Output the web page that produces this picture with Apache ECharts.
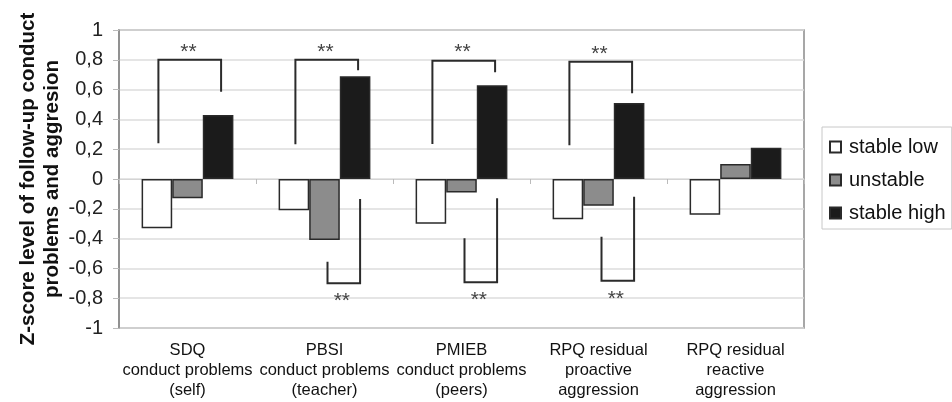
<!DOCTYPE html>
<html>
<head>
<meta charset="utf-8">
<script src="https://cdn.jsdelivr.net/npm/echarts@6/dist/echarts.min.js"></script>
<style>
html,body{margin:0;padding:0;background:#fff;}
#c{width:952px;height:402px;}
</style>
</head>
<body>
<div id="c"></div>
<script>
// ---- data ----
const categories = [
  'SDQ\nconduct problems\n(self)',
  'PBSI\nconduct problems\n(teacher)',
  'PMIEB\nconduct problems\n(peers)',
  'RPQ residual\nproactive\naggression',
  'RPQ residual\nreactive\naggression'
];
const seriesNames = ['stable low', 'unstable', 'stable high'];
const stableLow  = [-0.33, -0.21, -0.30, -0.27, -0.24];
const unstable   = [-0.13, -0.41, -0.09, -0.18, 0.10];
const stableHigh = [0.43, 0.69, 0.63, 0.51, 0.21];
const yTicks = [-1, -0.8, -0.6, -0.4, -0.2, 0, 0.2, 0.4, 0.6, 0.8, 1];
// significance brackets: [category, start value, bar value, end value]
const topBrackets = [
  [0, 0.24, 0.80, 0.585],
  [1, 0.233, 0.80, 0.73],
  [2, 0.235, 0.794, 0.716],
  [3, 0.226, 0.787, 0.575]
];
const bottomBrackets = [
  [1, -0.134, -0.70, -0.555],
  [2, -0.13, -0.693, -0.398],
  [3, -0.119, -0.683, -0.387]
];
const sigLabel = '**';

// ---- chart ----
const FONT = "'Liberation Sans', Arial, sans-serif";
const CAT_GAP = 0.33;
const chart = echarts.init(document.getElementById('c'), null, {renderer: 'canvas'});

function bracketRenderer(isTop) {
  return function (params, api) {
    const cat = api.value(0);
    const c = api.coord([cat, 0]);
    const band = api.size([1, 0])[0];
    const bw = band * (1 - CAT_GAP) / 3;
    let xl, xr;
    if (isTop) { xl = c[0] - bw + 1.5; xr = c[0] + bw + 3; }
    else { xl = c[0] + 3; xr = c[0] + bw + 5; }
    const y1 = api.coord([cat, api.value(1)])[1];
    const y2 = api.coord([cat, api.value(2)])[1];
    const y3 = api.coord([cat, api.value(3)])[1];
    const pts = isTop
      ? [[xl, y1], [xl, y2], [xr, y2], [xr, y3]]
      : [[xr, y1], [xr, y2], [xl, y2], [xl, y3]];
    const tx = isTop ? c[0] + 1 : (xl + xr) / 2 - 2;
    const ty = isTop ? y2 - 8 : y2 + 18;
    return {
      type: 'group',
      children: [
        {type: 'polyline', shape: {points: pts},
         style: {stroke: '#2b2b2b', lineWidth: 2, fill: null}},
        {type: 'text', x: tx, y: ty,
         style: {text: sigLabel, font: "21px " + FONT, fill: '#444',
                 align: 'center', verticalAlign: 'middle'}}
      ]
    };
  };
}

const barStyle = (color) => ({color: color, borderColor: '#2a2a2a', borderWidth: 1.5});

const option = {
  animation: false,
  backgroundColor: '#fff',
  textStyle: {fontFamily: FONT},
  grid: {left: 119, right: 148, top: 30, bottom: 74, show: true,
         borderColor: '#8a8a8a', borderWidth: 1.5, backgroundColor: 'transparent'},
  legend: {
    data: seriesNames,
    orient: 'vertical',
    left: 822, top: 127,
    itemWidth: 11, itemHeight: 11, itemGap: 13,
    padding: [10, 6, 6, 7],
    borderColor: '#c8c8c8', borderWidth: 1,
    icon: 'rect',
    textStyle: {fontSize: 20, color: '#111', fontFamily: FONT, padding: [0, 0, 0, 3]}
  },
  xAxis: [
    {
      type: 'category', data: categories, position: 'bottom',
      axisLine: {show: false, onZero: false},
      axisTick: {show: false},
      axisLabel: {
        interval: 0, margin: 12, color: '#111',
        fontSize: 16.5, lineHeight: 20, fontFamily: FONT
      },
      splitLine: {show: false}
    },
    {
      type: 'category', data: categories, position: 'bottom',
      axisLine: {show: true, onZero: true, lineStyle: {color: '#d4d4d4', width: 1}},
      axisTick: {show: true, length: 5, lineStyle: {color: '#bbb'}},
      axisLabel: {show: false},
      splitLine: {show: false}
    }
  ],
  yAxis: {
    type: 'value', min: -1, max: 1, interval: 0.2,
    name: 'Z-score level of follow-up conduct\nproblems and aggresion',
    nameLocation: 'middle', nameGap: 55, nameRotate: 90, nameMoveOverlap: false,
    nameTextStyle: {fontSize: 20.5, fontWeight: 'bold', lineHeight: 24, color: '#111', fontFamily: FONT},
    axisLine: {show: true, lineStyle: {color: '#8a8a8a', width: 1.5}},
    axisTick: {show: true, length: 6, lineStyle: {color: '#bbb'}},
    axisLabel: {
      fontSize: 20, color: '#222', margin: 16,
      formatter: function (v) {
        const r = Math.round(v * 10) / 10;
        return r === 0 ? '0' : String(r).replace('.', ',');
      }
    },
    splitLine: {show: true, lineStyle: {color: '#dcdcdc', width: 1.5}}
  },
  series: [
    {name: seriesNames[0], type: 'bar', data: stableLow, barGap: 0, barCategoryGap: '33%', itemStyle: barStyle('#ffffff')},
    {name: seriesNames[1], type: 'bar', data: unstable, barGap: 0, barCategoryGap: '33%', itemStyle: barStyle('#8c8c8c')},
    {name: seriesNames[2], type: 'bar', data: stableHigh, barGap: 0, barCategoryGap: '33%', itemStyle: barStyle('#1b1b1b')},
    {type: 'custom', name: 'sigTop', renderItem: bracketRenderer(true), data: topBrackets,
     encode: {x: 0, y: [1, 2, 3]}, z: 5, silent: true},
    {type: 'custom', name: 'sigBottom', renderItem: bracketRenderer(false), data: bottomBrackets,
     encode: {x: 0, y: [1, 2, 3]}, z: 5, silent: true}
  ]
};
chart.setOption(option);
</script>
</body>
</html>
